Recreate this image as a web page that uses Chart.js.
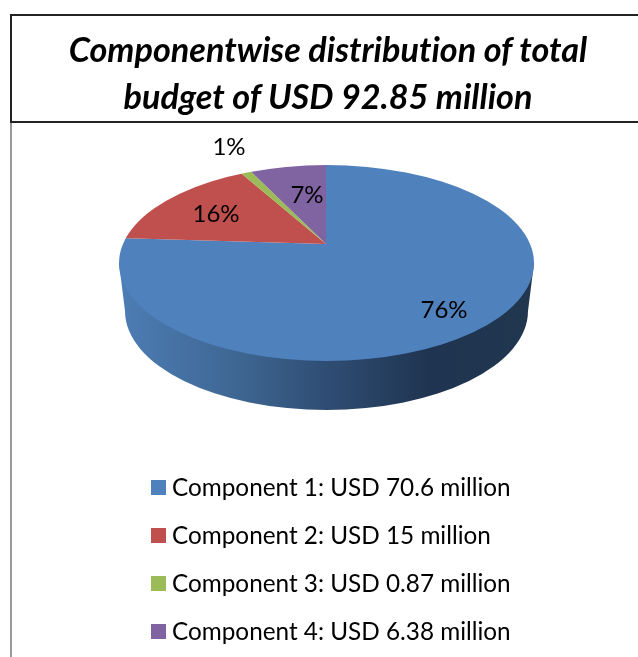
<!DOCTYPE html>
<html>
<head>
<meta charset="utf-8">
<title>Componentwise distribution</title>
<script src="https://cdn.jsdelivr.net/npm/chart.js@4"></script>
<style>
    html, body { margin: 0; padding: 0; background: #fff; }
    body { width: 638px; height: 657px; position: relative; overflow: hidden; font-family: Lato, "Open Sans", sans-serif; color: #000; font-variant-ligatures: none; }
    #frame-left { position: absolute; left: 10px; top: 121px; width: 2px; height: 536px; background: #999; }
    #title-box { position: absolute; left: 10px; top: 14px; height: 105px; width: 626px; border: 2px solid #222; border-right: 0; }
    #title-box div { position: absolute; left: -2px; width: 636px; text-align: center; font-size: 34.2px; font-weight: 700; font-style: italic; white-space: nowrap; line-height: 46px; }
    #chart-wrap { position: absolute; left: 0; top: 0; width: 638px; height: 657px; }
    #legend { position: absolute; left: 151px; top: 462px; margin: 0; padding: 0; list-style: none; }
    #legend li { height: 48.2px; display: flex; align-items: center; font-size: 24.3px; white-space: nowrap; }
    #legend span { display: inline-block; width: 15px; height: 15px; margin-right: 6px; position: relative; top: 1px; }
</style>
</head>
<body>
<div id="chart-wrap"><canvas id="budgetChart"></canvas></div>
<div id="frame-left"></div>
<div id="title-box"></div>
<ul id="legend"></ul>

<script>
// Chart data
const titleLines = ['Componentwise distribution of total', 'budget of USD 92.85 million'];
const categories = ['Component 1: USD 70.6 million', 'Component 2: USD 15 million', 'Component 3: USD 0.87 million', 'Component 4: USD 6.38 million'];
const values = [70.6, 15, 0.87, 6.38];
const colors = ['#4f81bd', '#c0504d', '#9bbb59', '#8064a2'];

// Where the tilted pie sits on the page
const pie = { apexX: 326, apexY: 244, tilt: 0.445, cx: 326.5, cy: 263, rx: 207.5, ry: 98, depth: 48, inset: 6 };
// Percent label centres, same order as categories
const labelPos = [[444, 310], [216, 214], [229, 147], [307, 195]];

// Build title and legend
const titleBox = document.getElementById('title-box');
titleLines.forEach((line, i) => {
    const el = document.createElement('div');
    el.textContent = line;
    el.style.top = (10 + i * 47) + 'px';
    titleBox.appendChild(el);
});
document.getElementById('legend').innerHTML = categories.map((name, i) =>
    `<li><span style="background:${colors[i]}"></span>${name}</li>`).join('');

// Draws the side wall and squashes the library's arcs into the tilted top face
const tiltedPie = {
    id: 'tiltedPie',
    beforeDatasetsDraw(chart) {
        const ctx = chart.ctx;
        const arc = chart.getDatasetMeta(0).data[0];

        // side wall
        const wall = ctx.createLinearGradient(pie.cx - pie.rx, 0, pie.cx + pie.rx, 0);
        wall.addColorStop(0, '#4d7db5');
        wall.addColorStop(0.3, '#3d6590');
        wall.addColorStop(0.5, '#2f4d74');
        wall.addColorStop(0.75, '#1f3450');
        wall.addColorStop(1, '#21374f');
        ctx.save();
        ctx.fillStyle = wall;
        ctx.beginPath();
        ctx.moveTo(pie.cx - pie.rx, pie.cy);
        ctx.lineTo(pie.cx - pie.rx + pie.inset, pie.cy + pie.depth);
        ctx.ellipse(pie.cx, pie.cy + pie.depth, pie.rx - pie.inset, pie.ry + 1, 0, Math.PI, 0, true);
        ctx.lineTo(pie.cx + pie.rx, pie.cy);
        ctx.closePath();
        ctx.fill();
        ctx.restore();

        // top face
        ctx.save();
        ctx.beginPath();
        ctx.ellipse(pie.cx, pie.cy, pie.rx, pie.ry, 0, 0, Math.PI * 2);
        ctx.clip();
        ctx.translate(pie.apexX, pie.apexY);
        ctx.scale(1, pie.tilt);
        ctx.translate(-arc.x, -arc.y);
    },
    afterDatasetsDraw(chart) {
        const ctx = chart.ctx;
        ctx.restore();

        // percent labels
        const total = values.reduce((a, b) => a + b, 0);
        ctx.save();
        ctx.fillStyle = '#000';
        ctx.font = '24px Lato, "Open Sans", sans-serif';
        ctx.textAlign = 'center';
        ctx.textBaseline = 'middle';
        values.forEach((v, i) => {
            ctx.fillText(Math.round(v / total * 100) + '%', labelPos[i][0], labelPos[i][1]);
        });
        ctx.restore();
    }
};

new Chart(document.getElementById('budgetChart'), {
    type: 'pie',
    data: {
        labels: categories,
        datasets: [{
            data: values,
            backgroundColor: colors,
            borderWidth: 0
        }]
    },
    options: {
        responsive: true,
        maintainAspectRatio: false,
        animation: false,
        layout: { padding: 10 },
        plugins: {
            legend: { display: false },
            title: { display: false },
            tooltip: { enabled: false }
        }
    },
    plugins: [tiltedPie]
});
</script>
</body>
</html>
